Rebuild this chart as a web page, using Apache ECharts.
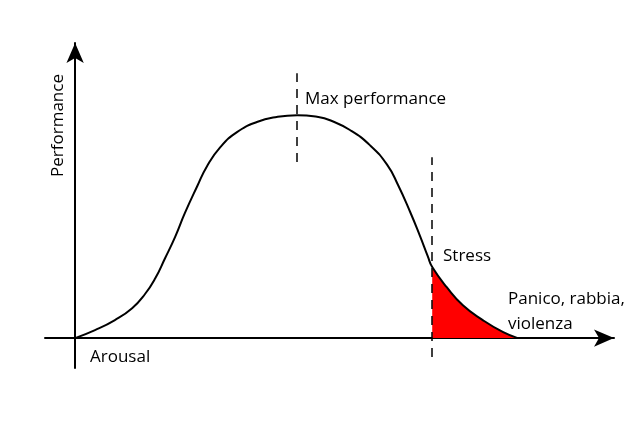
<!DOCTYPE html>
<html>
<head>
<meta charset="utf-8">
<script src="https://cdn.jsdelivr.net/npm/echarts@6/dist/echarts.min.js"></script>
<style>html,body{margin:0;padding:0;background:#fff}#c{width:640px;height:425px}</style>
</head>
<body>
<div id="c"></div>
<script>
// Curve: arousal (x) vs performance (y)
const arousal     = [0, 3.7, 7.4, 10.6, 13.0, 14.9, 16.7, 18.6, 20.4, 22.7, 24.5, 27.0, 30.1, 33.8, 37.5, 41.3, 45.2, 47.4, 51.1, 54.8, 58.0, 60.0, 62.3, 64.1, 65.6, 66.4, 69.1, 72.1, 75.8, 79.6, 82.3];
const performance = [0, 2.7, 6.1, 10.1, 14.9, 20.2, 26.9, 34.2, 42.2, 51.3, 58.0, 64.5, 69.6, 73.0, 74.7, 75.3, 74.7, 73.6, 70.3, 65.2, 58.6, 51.9, 42.6, 34.6, 27.5, 24.0, 17.2, 11.1, 6.1, 2.0, 0];
const stressStart = 66.4;   // start of red zone
const peakX = 41.3;
const peakMarker = [59.5, 89.5];    // dashed line extent at peak
const stressMarker = [-6.4, 61.1];  // dashed line extent at stress
const labels = {
  y: 'Performance', x: 'Arousal', peak: 'Max performance', stress: 'Stress',
  panic1: 'Panico, rabbia,', panic2: 'violenza'
};

const curve = arousal.map((x, i) => [x, performance[i]]);
const redZone = curve.filter(p => p[0] >= stressStart);

const font = '17px "Open Sans", sans-serif';
const chart = echarts.init(document.getElementById('c'));
const dash = { color: '#000', width: 1.5, type: [9, 7] };
chart.setOption({
  animation: false,
  grid: { left: 45, right: 26, top: 43, bottom: 57 },
  xAxis: {
    type: 'value', min: -5.6, max: 100.2,
    axisLine: { onZero: true, lineStyle: { color: '#000', width: 2 }, symbol: ['none', 'arrow'], symbolSize: [13, 20] },
    axisTick: { show: false }, axisLabel: { show: false }, splitLine: { show: false }
  },
  yAxis: {
    type: 'value', min: -10.1, max: 99.7,
    axisLine: { onZero: true, lineStyle: { color: '#000', width: 2 }, symbol: ['none', 'arrow'], symbolSize: [13, 20] },
    axisTick: { show: false }, axisLabel: { show: false }, splitLine: { show: false }
  },
  series: [
    {
      type: 'line', data: redZone, smooth: 0.5, symbol: 'none', z: 1,
      lineStyle: { width: 0 }, areaStyle: { color: '#ff0000', opacity: 1 }
    },
    {
      type: 'line', data: curve, smooth: 0.5, symbol: 'none', z: 3,
      lineStyle: { color: '#000', width: 2 },
      markLine: {
        silent: true, symbol: ['none', 'none'], label: { show: false }, lineStyle: dash,
        data: [
          [{ coord: [peakX, peakMarker[0]] }, { coord: [peakX, peakMarker[1]] }],
          [{ coord: [stressStart, stressMarker[0]] }, { coord: [stressStart, stressMarker[1]] }]
        ]
      }
    }
  ],
  graphic: [
    { type: 'text', x: 58, y: 125.5, rotation: Math.PI / 2, style: { text: labels.y, font, fill: '#000', align: 'center', verticalAlign: 'middle' } },
    { type: 'text', x: 90, y: 357.5, style: { text: labels.x, font, fill: '#000', align: 'left', verticalAlign: 'middle' } },
    { type: 'text', x: 305, y: 99.5, style: { text: labels.peak, font, fill: '#000', align: 'left', verticalAlign: 'middle' } },
    { type: 'text', x: 443, y: 256, style: { text: labels.stress, font, fill: '#000', align: 'left', verticalAlign: 'middle' } },
    { type: 'text', x: 508, y: 299.5, style: { text: labels.panic1, font, fill: '#000', align: 'left', verticalAlign: 'middle' } },
    { type: 'text', x: 508, y: 324.6, style: { text: labels.panic2, font, fill: '#000', align: 'left', verticalAlign: 'middle' } }
  ]
});
</script>
</body>
</html>
